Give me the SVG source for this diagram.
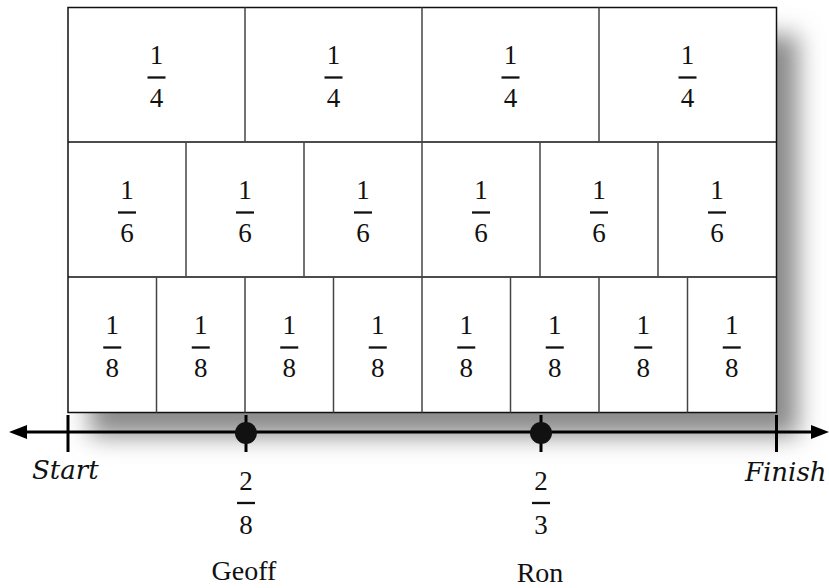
<svg xmlns="http://www.w3.org/2000/svg" width="829" height="588" viewBox="0 0 829 588">
<defs>
<filter id="blur" x="-20%" y="-20%" width="140%" height="140%"><feGaussianBlur stdDeviation="12"/></filter>
<style>
text{font-family:'Liberation Serif','Times New Roman','DejaVu Serif',serif}
.f{font-size:27px;fill:#111;text-anchor:middle}
.nm{font-size:28px;fill:#111;text-anchor:middle}
.it{font-family:'DejaVu Serif',serif;font-style:italic;font-size:26px;fill:#111}
.bar{stroke:#111;stroke-width:2.3}
.v{stroke:#444;stroke-width:1.5}
.h{stroke:#111;stroke-width:1.5}
.ax{stroke:#000;stroke-width:3;fill:none}
</style>
</defs>
<rect width="829" height="588" fill="#fff"/>
<rect x="90" y="35" width="708" height="401" fill="#8a8a8a" filter="url(#blur)"/>
<g id="chart">
<rect x="68" y="7.5" width="708.5" height="405" fill="#fff" stroke="#111" stroke-width="1.5"/>
<line class="h" x1="68" y1="142" x2="776.5" y2="142"/>
<line class="h" x1="68" y1="277" x2="776.5" y2="277"/>
<line class="v" x1="245" y1="7.5" x2="245" y2="142"/>
<line class="v" x1="422" y1="7.5" x2="422" y2="142"/>
<line class="v" x1="599" y1="7.5" x2="599" y2="142"/>
<line class="v" x1="186" y1="142" x2="186" y2="277"/>
<line class="v" x1="304" y1="142" x2="304" y2="277"/>
<line class="v" x1="422" y1="142" x2="422" y2="277"/>
<line class="v" x1="540" y1="142" x2="540" y2="277"/>
<line class="v" x1="658" y1="142" x2="658" y2="277"/>
<line class="v" x1="156.5" y1="277" x2="156.5" y2="412.5"/>
<line class="v" x1="245" y1="277" x2="245" y2="412.5"/>
<line class="v" x1="333.5" y1="277" x2="333.5" y2="412.5"/>
<line class="v" x1="422" y1="277" x2="422" y2="412.5"/>
<line class="v" x1="510.5" y1="277" x2="510.5" y2="412.5"/>
<line class="v" x1="599" y1="277" x2="599" y2="412.5"/>
<line class="v" x1="687.5" y1="277" x2="687.5" y2="412.5"/>
</g>
<g id="quarters">
<g transform="translate(156.5,0)"><text class="f" y="64">1</text><line class="bar" x1="-9" y1="77.5" x2="9" y2="77.5"/><text class="f" y="107">4</text></g>
<g transform="translate(333.5,0)"><text class="f" y="64">1</text><line class="bar" x1="-9" y1="77.5" x2="9" y2="77.5"/><text class="f" y="107">4</text></g>
<g transform="translate(510.5,0)"><text class="f" y="64">1</text><line class="bar" x1="-9" y1="77.5" x2="9" y2="77.5"/><text class="f" y="107">4</text></g>
<g transform="translate(687.5,0)"><text class="f" y="64">1</text><line class="bar" x1="-9" y1="77.5" x2="9" y2="77.5"/><text class="f" y="107">4</text></g>
</g>
<g id="sixths">
<g transform="translate(127,135)"><text class="f" y="64">1</text><line class="bar" x1="-9" y1="77.5" x2="9" y2="77.5"/><text class="f" y="107">6</text></g>
<g transform="translate(245,135)"><text class="f" y="64">1</text><line class="bar" x1="-9" y1="77.5" x2="9" y2="77.5"/><text class="f" y="107">6</text></g>
<g transform="translate(363,135)"><text class="f" y="64">1</text><line class="bar" x1="-9" y1="77.5" x2="9" y2="77.5"/><text class="f" y="107">6</text></g>
<g transform="translate(481,135)"><text class="f" y="64">1</text><line class="bar" x1="-9" y1="77.5" x2="9" y2="77.5"/><text class="f" y="107">6</text></g>
<g transform="translate(599,135)"><text class="f" y="64">1</text><line class="bar" x1="-9" y1="77.5" x2="9" y2="77.5"/><text class="f" y="107">6</text></g>
<g transform="translate(717,135)"><text class="f" y="64">1</text><line class="bar" x1="-9" y1="77.5" x2="9" y2="77.5"/><text class="f" y="107">6</text></g>
</g>
<g id="eighths">
<g transform="translate(112.25,270)"><text class="f" y="64">1</text><line class="bar" x1="-9" y1="77.5" x2="9" y2="77.5"/><text class="f" y="107">8</text></g>
<g transform="translate(200.75,270)"><text class="f" y="64">1</text><line class="bar" x1="-9" y1="77.5" x2="9" y2="77.5"/><text class="f" y="107">8</text></g>
<g transform="translate(289.25,270)"><text class="f" y="64">1</text><line class="bar" x1="-9" y1="77.5" x2="9" y2="77.5"/><text class="f" y="107">8</text></g>
<g transform="translate(377.75,270)"><text class="f" y="64">1</text><line class="bar" x1="-9" y1="77.5" x2="9" y2="77.5"/><text class="f" y="107">8</text></g>
<g transform="translate(466.25,270)"><text class="f" y="64">1</text><line class="bar" x1="-9" y1="77.5" x2="9" y2="77.5"/><text class="f" y="107">8</text></g>
<g transform="translate(554.75,270)"><text class="f" y="64">1</text><line class="bar" x1="-9" y1="77.5" x2="9" y2="77.5"/><text class="f" y="107">8</text></g>
<g transform="translate(643.25,270)"><text class="f" y="64">1</text><line class="bar" x1="-9" y1="77.5" x2="9" y2="77.5"/><text class="f" y="107">8</text></g>
<g transform="translate(731.75,270)"><text class="f" y="64">1</text><line class="bar" x1="-9" y1="77.5" x2="9" y2="77.5"/><text class="f" y="107">8</text></g>
</g>
<g id="numberline">
<line class="ax" x1="20" y1="432" x2="819" y2="432"/>
<polygon points="9,432 27,425 27,439" fill="#000"/>
<polygon points="829,432 811,425 811,439" fill="#000"/>
<line class="ax" x1="68" y1="415" x2="68" y2="452"/>
<line class="ax" x1="776.5" y1="415" x2="776.5" y2="452"/>
<line class="ax" x1="246" y1="415" x2="246" y2="452"/>
<line class="ax" x1="541" y1="415" x2="541" y2="452"/>
</g>
<g id="geoff">
<circle cx="246" cy="433" r="11" fill="#111"/>
<text class="f" x="246" y="490">2</text><line class="bar" x1="237" y1="503" x2="255" y2="503"/><text class="f" x="246" y="534">8</text>
<text class="nm" x="244" y="580">Geoff</text>
</g>
<g id="ron">
<circle cx="541" cy="433" r="11" fill="#111"/>
<text class="f" x="541" y="490">2</text><line class="bar" x1="532" y1="503" x2="550" y2="503"/><text class="f" x="541" y="534">3</text>
<text class="nm" x="540" y="582">Ron</text>
</g>
<text class="it" x="32" y="479">Start</text>
<text class="it" x="745" y="481">Finish</text>
</svg>
